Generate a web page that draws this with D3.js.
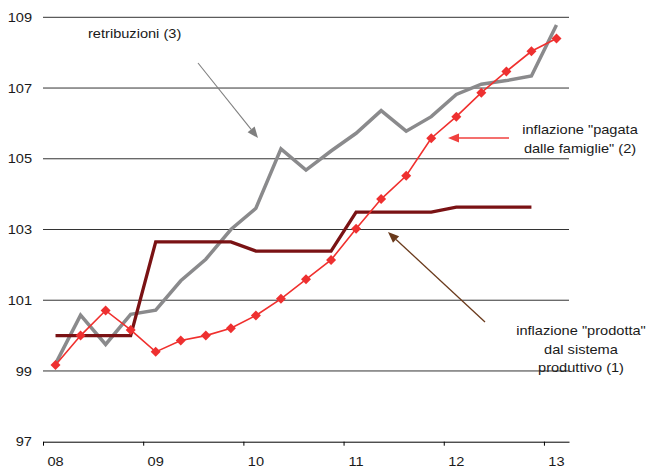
<!DOCTYPE html>
<html>
<head>
<meta charset="utf-8">
<script src="https://cdn.jsdelivr.net/npm/d3@7"></script>
<style>
  body { margin: 0; background: #fff; }
  svg { display: block; }
  text { font-family: "Liberation Sans", Arial, sans-serif; font-size: 12.7px; fill: #1a1a1a; }
</style>
</head>
<body>
<svg id="chart" width="648" height="468"></svg>
<script>
// ---- data (quarterly, 2008 Q1 .. 2013 Q1) ----
const yearLabels = ['08', '09', '10', '11', '12', '13'];
const yTicks = [97, 99, 101, 103, 105, 107, 109];
const pagata = [99.17, 100.0, 100.71, 100.16, 99.54, 99.86, 100.0, 100.21, 100.57, 101.04, 101.59,
                102.14, 103.02, 103.86, 104.52, 105.58, 106.19, 106.87, 107.47, 108.04, 108.40];
const retribuzioni = [99.2, 100.58, 99.75, 100.60, 100.72, 101.55, 102.16, 103.0, 103.6, 105.28, 104.68,
                      105.22, 105.72, 106.36, 105.78, 106.19, 106.82, 107.11, 107.21, 107.34, 108.78];
const prodotta = [100.0, 100.0, 100.0, 100.0, 102.65, 102.65, 102.65, 102.65, 102.39, 102.39, 102.39,
                  102.39, 103.49, 103.49, 103.49, 103.49, 103.63, 103.63, 103.63, 103.63];

const svg = d3.select('#chart');
svg.append('rect').attr('width', 648).attr('height', 468).attr('fill', '#fff');

const x = d3.scaleLinear().domain([0, 21]).range([43, 569]);
const y = d3.scaleLinear().domain([97, 109]).range([441.7, 17.3]);

function label(g, px, py, txt, anchor) {
  return g.append('text')
    .attr('transform', `translate(${px},${py}) scale(1.15,1)`)
    .attr('text-anchor', anchor)
    .text(txt);
}

// gridlines
const grid = svg.append('g');
grid.selectAll('line').data(yTicks.filter(v => v > 97)).join('line')
  .attr('x1', x(0)).attr('x2', x(21))
  .attr('y1', d => y(d)).attr('y2', d => y(d))
  .attr('stroke', '#333').attr('stroke-width', 1);

// y labels
yTicks.forEach(v => label(svg, 32, y(v) + 4.6, String(v), 'end'));

// x axis
const xAxis = d3.axisBottom(x).tickValues(d3.range(0, 21, 4)).tickSize(4).tickSizeOuter(0).tickFormat('');
const gx = svg.append('g').attr('transform', `translate(0,${y(97)})`).call(xAxis);
gx.select('.domain').attr('stroke', '#000');
gx.selectAll('.tick line').attr('stroke', '#000');
yearLabels.forEach((lab, k) => label(svg, x(4 * k + 0.5), 466, lab, 'middle'));

// series
const line = d3.line().x((d, i) => x(i + 0.5)).y(d => y(d));

svg.append('path').datum(retribuzioni).attr('d', line)
  .attr('fill', 'none').attr('stroke', '#8a8a8c').attr('stroke-width', 3.5).attr('stroke-linejoin', 'miter');
svg.append('path').datum(prodotta).attr('d', line)
  .attr('fill', 'none').attr('stroke', '#7a1214').attr('stroke-width', 3.3).attr('stroke-linejoin', 'miter');
svg.append('path').datum(pagata).attr('d', line)
  .attr('fill', 'none').attr('stroke', '#f0302e').attr('stroke-width', 1.6);
svg.append('g').selectAll('path').data(pagata).join('path')
  .attr('transform', (d, i) => `translate(${x(i + 0.5)},${y(d)})`)
  .attr('d', 'M0,-5L5,0L0,5L-5,0Z')
  .attr('fill', '#ee3030');

// annotations
function arrow(x1, y1, x2, y2, color, w, hl, hw) {
  const a = Math.atan2(y2 - y1, x2 - x1);
  const bx = x2 - hl * Math.cos(a), by = y2 - hl * Math.sin(a);
  svg.append('line').attr('x1', x1).attr('y1', y1).attr('x2', bx).attr('y2', by)
    .attr('stroke', color).attr('stroke-width', w);
  const px = -Math.sin(a) * hw / 2, py = Math.cos(a) * hw / 2;
  svg.append('path')
    .attr('d', `M${x2},${y2}L${bx + px},${by + py}L${bx - px},${by - py}Z`)
    .attr('fill', color);
}
arrow(198, 63, 258, 138, '#7f7f7f', 1.1, 11, 9);
arrow(509, 138, 448, 138, '#f0403e', 1.6, 11, 9);
arrow(485, 322, 388, 232, '#6a3a1c', 1.3, 11, 9);

label(svg, 88, 38, 'retribuzioni (3)', 'start');
label(svg, 580, 134, 'inflazione "pagata', 'middle');
label(svg, 580, 153, 'dalle famiglie" (2)', 'middle');
label(svg, 581, 335, 'inflazione "prodotta"', 'middle');
label(svg, 581, 353.5, 'dal sistema', 'middle');
label(svg, 581, 372, 'produttivo (1)', 'middle');
</script>
</body>
</html>
